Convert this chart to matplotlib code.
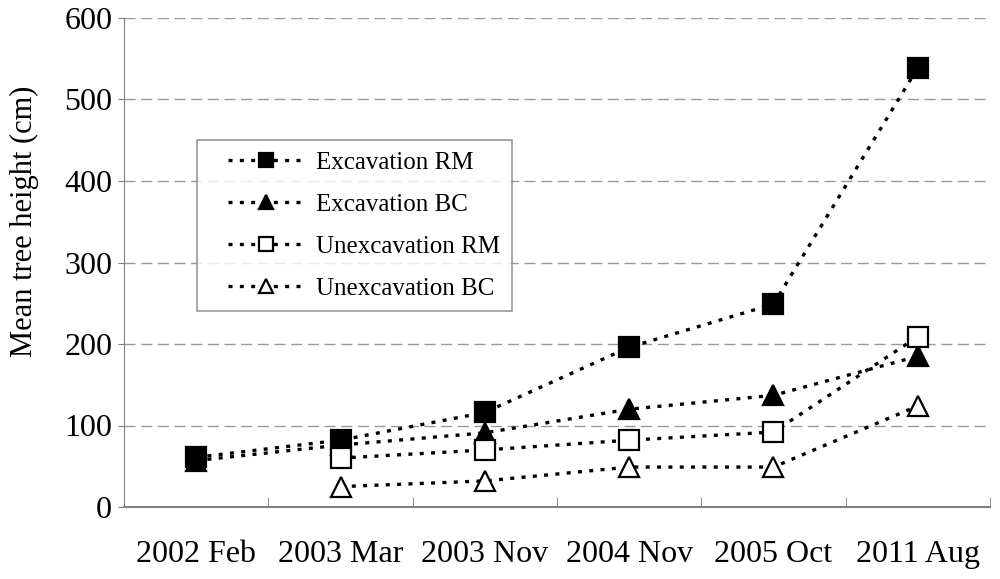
import numpy as np
import matplotlib
matplotlib.use("Agg")
from matplotlib import pyplot as plt
from matplotlib.legend_handler import HandlerLine2D

# categorias do eixo x
datas = ["2002 Feb", "2003 Mar", "2003 Nov", "2004 Nov", "2005 Oct", "2011 Aug"]

exc_rm = [61, 82, 116, 196, 249, 539]
exc_bc = [57, 76, 91, 120, 137, 185]
unexc_rm = [np.nan, 60, 70, 82, 92, 209]
unexc_bc = [np.nan, 25, 32, 49, 49, 124]

plt.rcParams['font.family'] = ['Liberation Serif', 'DejaVu Serif']

fig = plt.figure(figsize=(10, 5.79), dpi=100)
ax = fig.add_axes([0.124, (579 - 507) / 579, 0.866, 489 / 579])

x = np.arange(len(datas))
estilo = dict(color='black', linestyle=(0, (1.2, 2.2)), linewidth=2.4,
              markersize=14, markeredgewidth=1.6, markeredgecolor='black')

l1, = ax.plot(x, exc_rm, marker='s', markerfacecolor='black', label='Excavation RM', **estilo)
l2, = ax.plot(x, exc_bc, marker='^', markerfacecolor='black', label='Excavation BC', **estilo)
l3, = ax.plot(x, unexc_rm, marker='s', markerfacecolor='white', label='Unexcavation RM', **estilo)
l4, = ax.plot(x, unexc_bc, marker='^', markerfacecolor='white', label='Unexcavation BC', **estilo)

ax.set_xlim(-0.5, len(datas) - 0.5)
ax.set_ylim(0, 600)
ax.set_yticks(range(0, 601, 100))
ax.set_xticks(x)
ax.set_xticklabels(datas)
ax.set_xticks(np.arange(-0.5, len(datas), 1), minor=True)

ax.tick_params(axis='x', which='major', length=0, labelsize=23, pad=24)
ax.tick_params(axis='x', which='minor', direction='in', length=7, color='#808080')
ax.tick_params(axis='y', direction='out', length=4.5, color='#808080', labelsize=23, pad=4)

ax.yaxis.grid(True, color='#999999', linestyle=(0, (8, 4)), linewidth=1)
ax.set_axisbelow(True)

for lado in ['top', 'right']:
    ax.spines[lado].set_visible(False)
ax.spines['left'].set_color('#808080')
ax.spines['bottom'].set_color('#808080')
ax.spines['bottom'].set_linewidth(1.5)

ax.set_ylabel("Mean tree height (cm)", fontsize=22)
ax.yaxis.set_label_coords(-0.098, 0.585)

hm = {l: HandlerLine2D(xpad=0.82) for l in [l1, l2, l3, l4]}
leg = ax.legend(handler_map=hm, loc='upper left', bbox_to_anchor=(0.084, 0.75),
                borderaxespad=0, fontsize=18, fancybox=False, frameon=True,
                markerscale=0.72, handlelength=3.82, labelspacing=0.78,
                handletextpad=0.52, borderpad=0.45)
leg.get_frame().set_edgecolor('#808080')
leg.get_frame().set_linewidth(1.2)

fig.savefig("out.png", dpi=100)
